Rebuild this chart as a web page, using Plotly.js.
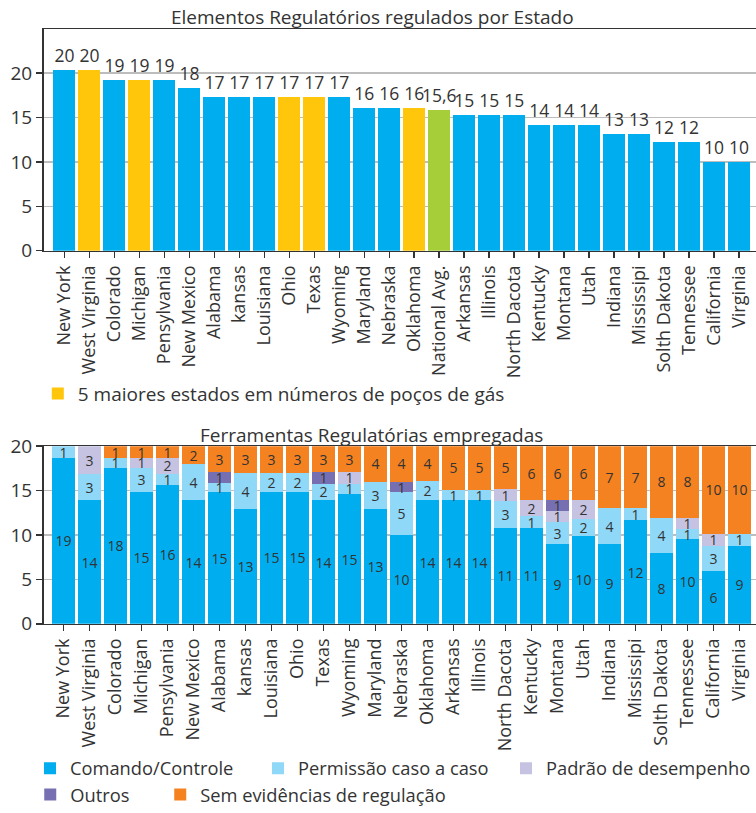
<!DOCTYPE html>
<html>
<head>
<meta charset="utf-8">
<script src="https://cdn.plot.ly/plotly-3.0.1.min.js"></script>
<style>html,body{margin:0;padding:0;background:#fff;}#chart{width:756px;height:813px;}</style>
</head>
<body>
<div id="chart"></div>
<script>
// ---- Top chart: Elementos Regulatórios regulados por Estado ----
const statesTop = ["New York","West Virginia","Colorado","Michigan","Pensylvania","New Mexico","Alabama","kansas","Louisiana","Ohio","Texas","Wyoming","Maryland","Nebraska","Oklahoma","National Avg.","Arkansas","Illinois","North Dacota","Kentucky","Montana","Utah","Indiana","Mississipi","Solth Dakota","Tennessee","California","Virginia"];
const elementValues = [20.34,20.34,19.21,19.21,19.21,18.31,17.3,17.3,17.3,17.3,17.3,17.3,16.06,16.06,16.06,15.83,15.27,15.27,15.27,14.15,14.15,14.15,13.13,13.13,12.23,12.23,9.98,9.98];
const elementLabels = ["20","20","19","19","19","18","17","17","17","17","17","17","16","16","16","15,6","15","15","15","14","14","14","13","13","12","12","10","10"];
const top5GasStates = ["West Virginia","Michigan","Ohio","Texas","Oklahoma"];
const averageCategory = "National Avg.";
const yTicks = [0,5,10,15,20];

// ---- Bottom chart: Ferramentas Regulatórias empregadas ----
const statesBottom = ["New York","West Virginia","Colorado","Michigan","Pensylvania","New Mexico","Alabama","kansas","Louisiana","Ohio","Texas","Wyoming","Maryland","Nebraska","Oklahoma","Arkansas","Illinois","North Dacota","Kentucky","Montana","Utah","Indiana","Mississipi","Solth Dakota","Tennessee","California","Virginia"];
const comandoValues   = [18.7,13.9,17.6,14.9,15.6,13.9,14.8,12.9,14.9,14.9,13.9,14.6,12.9,10.0,13.9,13.9,13.9,10.8,10.8,8.95,9.9,9.0,11.65,7.97,9.5,5.94,8.76];
const comandoLabels   = [19,14,18,15,16,14,15,13,15,15,14,15,13,10,14,14,14,11,11,9,10,9,12,8,10,6,9];
const permissaoValues = [1.3,3.0,1.1,2.7,1.3,4.1,1.1,4.1,2.1,2.1,1.9,1.2,3.1,4.8,2.2,1.2,1.2,3.0,1.3,2.55,1.95,4.0,1.35,3.98,1.2,2.82,1.39];
const permissaoLabels = [1,3,1,3,1,4,1,4,2,2,2,1,3,5,2,1,1,3,1,3,2,4,1,4,1,3,1];
const padraoValues    = [null,3.1,null,1.1,1.8,null,null,null,null,null,null,1.3,null,null,null,null,null,1.35,1.8,1.2,2.05,null,null,null,1.25,1.39,null];
const padraoLabels    = [null,3,null,1,2,null,null,null,null,null,null,1,null,null,null,null,null,1,2,1,2,null,null,null,1,1,null];
const outrosValues    = [null,null,null,null,null,null,1.2,null,null,null,1.3,null,null,1.2,null,null,null,null,null,1.2,null,null,null,null,null,null,null];
const outrosLabels    = [null,null,null,null,null,null,1,null,null,null,1,null,null,1,null,null,null,null,null,1,null,null,null,null,null,null,null];
const semValues       = [null,null,1.3,1.3,1.3,2.0,2.9,3.0,3.0,3.0,2.9,2.9,4.0,4.0,3.9,4.9,4.9,4.85,6.1,6.1,6.1,7.0,7.0,8.05,8.05,9.85,9.85];
const semLabels       = [null,null,1,1,1,2,3,3,3,3,3,3,4,4,4,5,5,5,6,6,6,7,7,8,8,10,10];

const FONT = "'Open Sans', 'Noto Sans', sans-serif";
const TXT = "#333333";
const BLUE = "#00aeef", YELLOW = "#ffc60b", GREEN = "#a6ce39";
const LIGHT = "#8fd8f7", LAVENDER = "#c6c3e2", PURPLE = "#7670b3", ORANGE = "#f58220";

const topColors = statesTop.map(s => s === averageCategory ? GREEN : (top5GasStates.includes(s) ? YELLOW : BLUE));

const traces = [
  {type:'bar', x: statesTop, y: elementValues, text: elementLabels, texttemplate:'%{text}',
   textposition:'outside', cliponaxis:false, constraintext:'none',
   textfont:{family:FONT, size:17.5, color:TXT}, marker:{color: topColors},
   xaxis:'x', yaxis:'y', showlegend:false, hoverinfo:'x+y'},
  {type:'bar', x:[null], y:[null], name:'5 maiores estados em números de poços de gás',
   marker:{color: YELLOW}, xaxis:'x', yaxis:'y', legend:'legend', showlegend:true},
];

function seg(name, vals, labels, color, legendId, lw){
  const t = {type:'bar', name:name, x: statesBottom, y: vals, text: labels.map(v => v===null ? '' : String(v)),
    texttemplate:'%{text}', textposition:'inside', insidetextanchor:'middle', constraintext:'none', textangle:0,
    textfont:{family:FONT, size:14, color:TXT}, marker:{color: color},
    xaxis:'x2', yaxis:'y2', legend: legendId, showlegend:true};
  if (lw) t.legendwidth = lw;
  return t;
}
traces.push(seg('Comando/Controle', comandoValues, comandoLabels, BLUE, 'legend2', 183));
traces.push(seg('Permissão caso a caso', permissaoValues, permissaoLabels, LIGHT, 'legend2', 203));
traces.push(seg('Padrão de desempenho', padraoValues, padraoLabels, LAVENDER, 'legend2'));
traces.push(seg('Outros', outrosValues, outrosLabels, PURPLE, 'legend3', 85));
traces.push(seg('Sem evidências de regulação', semValues, semLabels, ORANGE, 'legend3'));

const W = 756, H = 813;
const py = p => 1 - p / H;

const axisCommonX = {type:'category', showline:true, mirror:true, linecolor:'#333', linewidth:1.5,
  ticks:'outside', ticklen:6, tickwidth:1.5, tickcolor:'#333', tickangle:-90,
  tickfont:{family:FONT, size:18, color:TXT}, showgrid:false, fixedrange:true};
const axisCommonY = {showline:true, linecolor:'#333', linewidth:1.5, ticks:'outside', ticklen:6, tickwidth:1.5,
  tickcolor:'#333', tickfont:{family:FONT, size:19, color:TXT}, showgrid:true, gridcolor:'#bdbdbd', gridwidth:1.5,
  tickmode:'array', tickvals: yTicks, zeroline:false, fixedrange:true};

const legendCommon = {orientation:'h', xanchor:'left', yanchor:'middle', bgcolor:'rgba(0,0,0,0)',
  font:{family:FONT, size:19, color:TXT}, traceorder:'normal', itemclick:false, itemdoubleclick:false};

const layout = {
  width: W, height: H, margin:{l:0, r:0, t:0, b:0},
  paper_bgcolor:'#fff', plot_bgcolor:'#fff',
  barmode:'stack', bargap:0.12,
  font:{family:FONT, color:TXT},
  xaxis: Object.assign({}, axisCommonX, {domain:[43.5/W, 1], range:[-0.84, 27.68], anchor:'y'}),
  yaxis: Object.assign({}, axisCommonY, {domain:[py(252.3), py(29.4)], range:[0,24.95], anchor:'x'}),
  xaxis2: Object.assign({}, axisCommonX, {domain:[43.5/W, 1], range:[-0.77, 26.63], anchor:'y2'}),
  yaxis2: Object.assign({}, axisCommonY, {domain:[py(627.7), py(449)], range:[0,20], anchor:'x2'}),
  legend: Object.assign({}, legendCommon, {x: 0.05, y: py(396)}),
  legend2: Object.assign({}, legendCommon, {x: 0.04, y: py(773), font:{family:FONT, size:18.3, color:TXT}}),
  legend3: Object.assign({}, legendCommon, {x: 0.04, y: py(799.5), font:{family:FONT, size:18.3, color:TXT}}),
  annotations: [
    {text:'Elementos Regulatórios regulados por Estado', xref:'paper', yref:'paper', x:372/W, y:py(17),
     showarrow:false, font:{family:FONT, size:19, color:TXT}, xanchor:'center', yanchor:'middle'},
    {text:'Ferramentas Regulatórias empregadas', xref:'paper', yref:'paper', x:371/W, y:py(438),
     showarrow:false, font:{family:FONT, size:19, color:TXT}, xanchor:'center', yanchor:'middle'}
  ]
};

Plotly.newPlot('chart', traces, layout, {displayModeBar:false, staticPlot:true});
</script>
</body>
</html>
